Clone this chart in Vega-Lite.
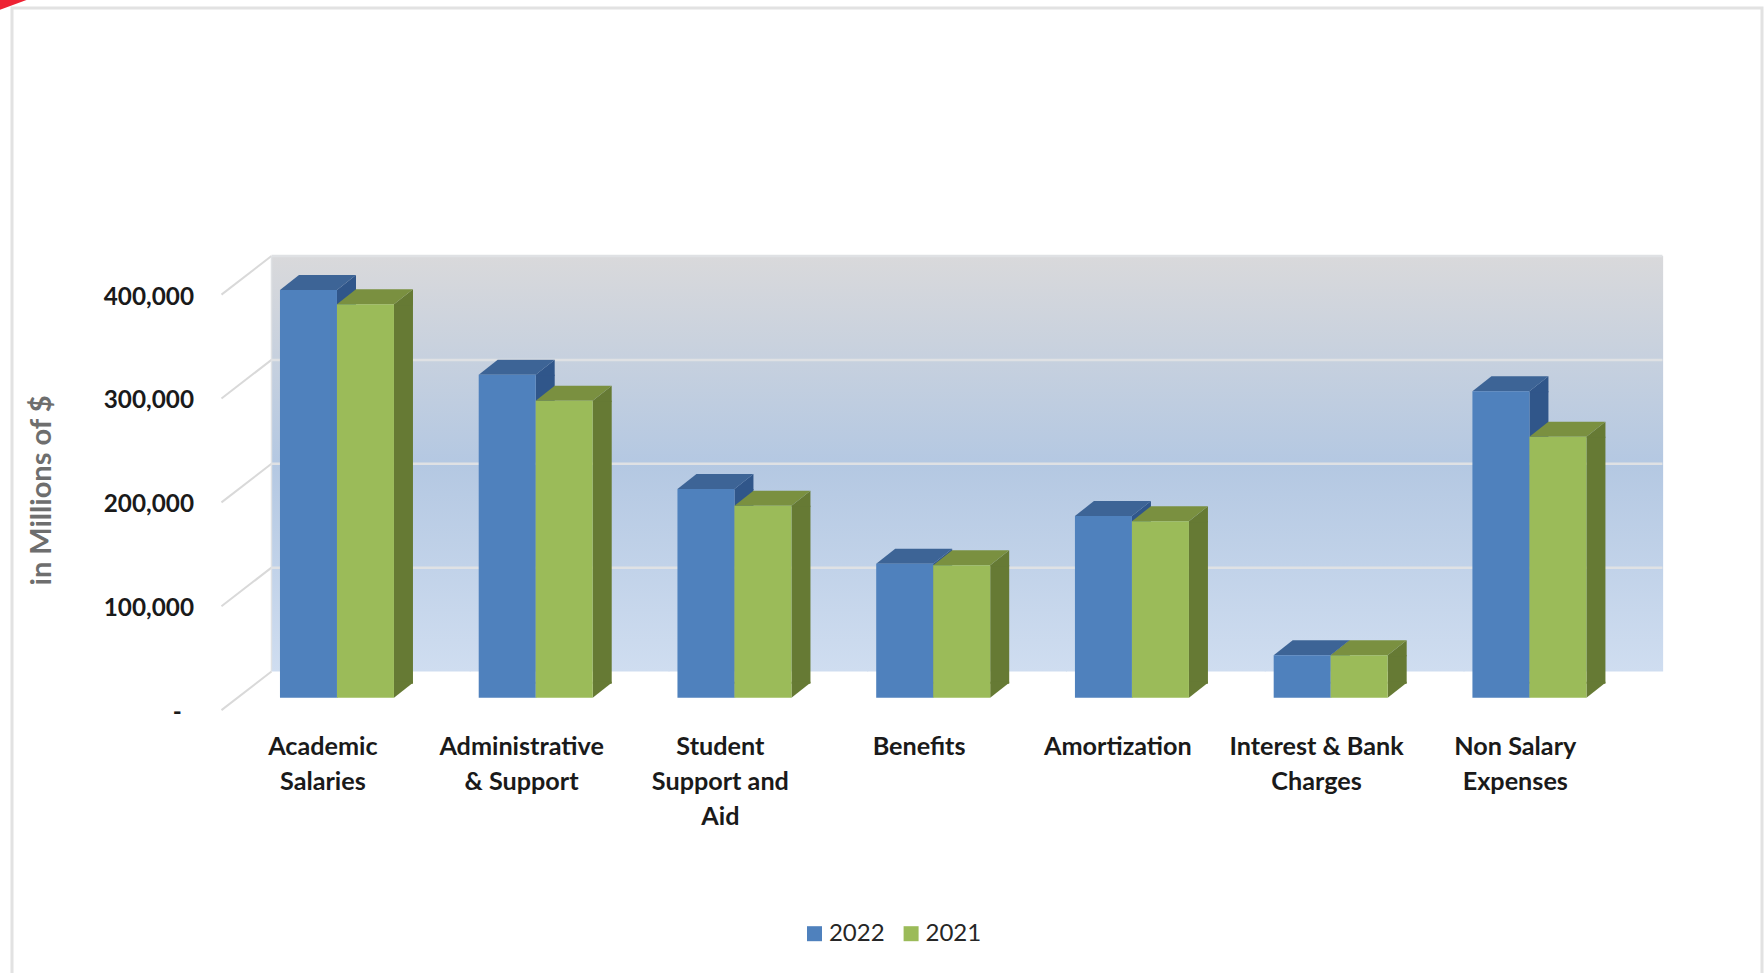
{"$schema":"https://vega.github.io/schema/vega-lite/v6.json","autosize":{"type":"none"},"padding":{"left":12,"top":8,"right":2,"bottom":0},"width":1750,"height":967,"background":"white","config":{"view":{"stroke":"#e2e2e2","strokeWidth":3,"fill":"white"}},"data":{"values":[
{"category":"Academic Salaries","year":"2022","value":392600},{"category":"Academic Salaries","year":"2021","value":378800},
{"category":"Administrative & Support","year":"2022","value":311000},{"category":"Administrative & Support","year":"2021","value":286000},
{"category":"Student Support and Aid","year":"2022","value":201000},{"category":"Student Support and Aid","year":"2021","value":185000},
{"category":"Benefits","year":"2022","value":129000},{"category":"Benefits","year":"2021","value":127500},
{"category":"Amortization","year":"2022","value":175000},{"category":"Amortization","year":"2021","value":170000},
{"category":"Interest & Bank Charges","year":"2022","value":41000},{"category":"Interest & Bank Charges","year":"2021","value":41000},
{"category":"Non Salary Expenses","year":"2022","value":295200},{"category":"Non Salary Expenses","year":"2021","value":251200}]},
"encoding":{"x":{"field":"category","type":"nominal","sort":null,"title":null,"scale":{"domain":["Academic Salaries","Administrative & Support","Student Support and Aid","Benefits","Amortization","Interest & Bank Charges","Non Salary Expenses"],"range":[259.5,1650.7],"paddingInner":0,"paddingOuter":0},"axis":{"orient":"bottom","domain":false,"ticks":false,"grid":false,"labelAngle":0,"labelAlign":"center","labelBaseline":"top","labelPadding":0,"offset":-241,"labelOffset":-48,"labelFont":"Lato","labelFontWeight":"bold","labelFontSize":25.2,"labelColor":"#1a1a1a","labelLineHeight":35,"labelLimit":400,"labelExpr":"{'Academic Salaries':['Academic','Salaries'],'Administrative & Support':['Administrative','& Support'],'Student Support and Aid':['Student','Support and','Aid'],'Benefits':['Benefits'],'Amortization':['Amortization'],'Interest & Bank Charges':['Interest & Bank','Charges'],'Non Salary Expenses':['Non Salary','Expenses']}[datum.label]"}},
"y":{"field":"value","type":"quantitative","title":"in Millions of $","scale":{"domain":[0,400000],"range":[663.5,248],"nice":false},"axis":{"orient":"left","domain":false,"ticks":false,"grid":false,"values":[0,100000,200000,300000,400000],"offset":-181.5,"labelPadding":0,"labelOffset":41,"labelFont":"Lato","labelFontWeight":"bold","labelFontSize":24.3,"labelColor":"#1a1a1a","labelExpr":"datum.value===0?'-\u2002\u200b':format(datum.value,',')","titleFont":"Lato","titleFontWeight":"bold","titleFontSize":29,"titleColor":"#6e6e6e","titleAngle":270,"titleX":-152,"titleY":482,"titleAlign":"center","titleBaseline":"middle"}}},
"layer":[
{"transform":[{"filter":{"field":"year","equal":"2022"}}],"mark":{"type":"bar","width":199.6,"color":{"gradient":"linear","x1":0,"y1":0,"x2":0,"y2":1,"stops":[{"offset":0,"color":"#d9d9db"},{"offset":0.5,"color":"#b4c8e2"},{"offset":1,"color":"#cfddf0"}]}},"encoding":{"y":{"datum":400000},"y2":{"datum":0}}},
{"data":{"values":[{"value":100000},{"value":200000},{"value":300000},{"value":400000}]},"mark":{"type":"point","shape":"M0,0L1391,0","size":4,"filled":false,"stroke":"#dfe1e4","strokeWidth":2.5,"opacity":1,"xOffset":-99.4},"encoding":{"x":{"datum":"Academic Salaries"}}},
{"data":{"values":[{"value":0},{"value":100000},{"value":200000},{"value":300000},{"value":400000}]},"mark":{"type":"point","shape":"M0,0L-50,38.6","size":4,"filled":false,"stroke":"#d9d9d9","strokeWidth":2,"opacity":1,"xOffset":-99.4},"encoding":{"x":{"datum":"Academic Salaries"}}},
{"data":{"values":[{"value":400000}]},"mark":{"type":"point","shape":"M0,0L0,415","size":4,"filled":false,"stroke":"#dfe1e4","strokeWidth":1.5,"opacity":1,"xOffset":-99.4},"encoding":{"x":{"datum":"Academic Salaries"}}},
{"data":{"values":[{"value":400000}]},"mark":{"type":"point","shape":"M-272,-256L-245,-256L-272,-246Z","size":4,"filled":true,"fill":"#ee2233","strokeWidth":0,"opacity":1,"xOffset":-99.4},"encoding":{"x":{"datum":"Academic Salaries"}}},
{"transform":[{"filter":{"field":"year","equal":"2022"}}],"mark":{"type":"bar","width":19,"color":"#30568a","xOffset":-24.4,"yOffset":26.3,"y2Offset":12.3},"encoding":{"y2":{"datum":0}}},
{"transform":[{"filter":{"field":"year","equal":"2022"}}],"mark":{"type":"point","shape":"M0,0L19,-15L19,1L0,1Z","size":4,"filled":true,"fill":"#30568a","strokeWidth":0,"opacity":1,"xOffset":-33.9,"yOffset":26.3}},
{"transform":[{"filter":{"field":"year","equal":"2022"}}],"mark":{"type":"point","shape":"M0,0L19,-15L19,-16L0,-16Z","size":4,"filled":true,"fill":"#30568a","strokeWidth":0,"opacity":1,"xOffset":-33.9,"yOffset":26.3},"encoding":{"y":{"datum":0}}},
{"transform":[{"filter":{"field":"year","equal":"2022"}}],"mark":{"type":"point","shape":"M0,0L57,0L76,-15L19,-15Z","size":4,"filled":true,"fill":"#3d6496","strokeWidth":0,"opacity":1,"xOffset":-90.9,"yOffset":26.3}},
{"transform":[{"filter":{"field":"year","equal":"2022"}}],"mark":{"type":"bar","width":57,"xOffset":-62.4,"yOffset":26.3,"y2Offset":26.3},"encoding":{"y2":{"datum":0},"color":{"field":"year","type":"nominal","scale":{"domain":["2022","2021"],"range":["#4f81bd","#9bbb59"]},"legend":{"title":null,"orient":"none","legendX":790.5,"legendY":913.7,"direction":"horizontal","columns":2,"columnPadding":13.6,"symbolType":"square","symbolSize":225,"symbolStrokeWidth":0,"padding":0,"labelFont":"Lato","labelFontSize":24,"labelColor":"#262626","labelOffset":2.4}}}},
{"transform":[{"filter":{"field":"year","equal":"2021"}}],"mark":{"type":"bar","width":19,"color":"#667a34","xOffset":32.6,"yOffset":26.3,"y2Offset":12.3},"encoding":{"y2":{"datum":0}}},
{"transform":[{"filter":{"field":"year","equal":"2021"}}],"mark":{"type":"point","shape":"M0,0L19,-15L19,1L0,1Z","size":4,"filled":true,"fill":"#667a34","strokeWidth":0,"opacity":1,"xOffset":23.1,"yOffset":26.3}},
{"transform":[{"filter":{"field":"year","equal":"2021"}}],"mark":{"type":"point","shape":"M0,0L19,-15L19,-16L0,-16Z","size":4,"filled":true,"fill":"#667a34","strokeWidth":0,"opacity":1,"xOffset":23.1,"yOffset":26.3},"encoding":{"y":{"datum":0}}},
{"transform":[{"filter":{"field":"year","equal":"2021"}}],"mark":{"type":"point","shape":"M0,0L57,0L76,-15L19,-15Z","size":4,"filled":true,"fill":"#7a9040","strokeWidth":0,"opacity":1,"xOffset":-33.9,"yOffset":26.3}},
{"transform":[{"filter":{"field":"year","equal":"2021"}}],"mark":{"type":"bar","width":57,"xOffset":-5.4,"yOffset":26.3,"y2Offset":26.3},"encoding":{"y2":{"datum":0},"color":{"field":"year","type":"nominal"}}}
]}
